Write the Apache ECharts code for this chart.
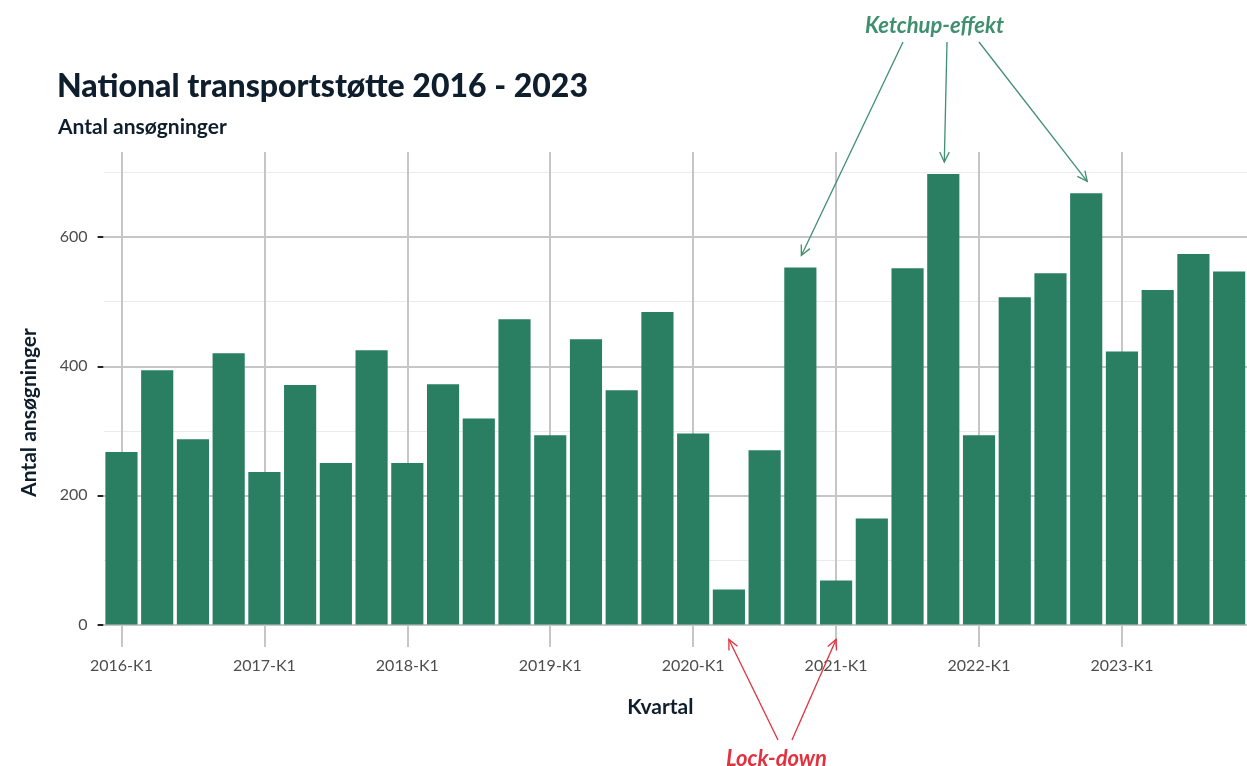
<!DOCTYPE html>
<html lang="da">
<head>
	<meta charset="UTF-8">
	<title>National transportstøtte</title>
	<style>
		html, body { margin: 0; padding: 0; background: #fff; }
		#chart { width: 1247px; height: 766px; }
	</style>
</head>
<body>
	<div id="chart"></div>
	<script src="https://cdn.jsdelivr.net/npm/echarts@6/dist/echarts.min.js"></script>
	<script>
		var categories = [
			'2016-K1','2016-K2','2016-K3','2016-K4',
			'2017-K1','2017-K2','2017-K3','2017-K4',
			'2018-K1','2018-K2','2018-K3','2018-K4',
			'2019-K1','2019-K2','2019-K3','2019-K4',
			'2020-K1','2020-K2','2020-K3','2020-K4',
			'2021-K1','2021-K2','2021-K3','2021-K4',
			'2022-K1','2022-K2','2022-K3','2022-K4',
			'2023-K1','2023-K2','2023-K3','2023-K4'
		];
		var values = [
			267, 394, 287, 420,
			236, 371, 250, 425,
			250, 372, 319, 473,
			293, 442, 363, 484,
			296, 54, 270, 553,
			68, 164, 552, 698,
			293, 507, 544, 668,
			423, 518, 574, 547
		];
		var majorTicks = [0, 200, 400, 600];
		var minorTicks = [100, 300, 500, 700];
		var ketchupBars = ['2020-K4', '2021-K4', '2022-K4'];
		var lockdownBars = ['2020-K2', '2021-K1'];

		var FONT = 'Lato';
		var INK = '#0f1e2c';
		var GREEN = '#2a7f62';
		var NOTE_GREEN = '#3f8f70';
		var NOTE_RED = '#e0323f';

		var yearStarts = categories.filter(function (c) { return /K1$/.test(c); });

		var gridLines = [];
		majorTicks.forEach(function (v) {
			gridLines.push({ yAxis: v, lineStyle: { color: '#c6c6c6', width: 2, type: 'solid' } });
		});
		minorTicks.forEach(function (v) {
			gridLines.push({ yAxis: v, lineStyle: { color: '#ebebeb', width: 1, type: 'solid' } });
		});
		yearStarts.forEach(function (c) {
			gridLines.push({ xAxis: c, lineStyle: { color: '#c6c6c6', width: 2, type: 'solid' } });
		});

		var isYearStart = function (idx) { return idx % 4 === 0; };

		var chart = echarts.init(document.getElementById('chart'));

		var option = {
			backgroundColor: '#ffffff',
			animation: false,
			title: [
				{
					text: 'National transportstøtte 2016 - 2023',
					left: 52, top: 66,
					textStyle: { fontFamily: FONT, fontSize: 32, fontWeight: 900, color: INK }
				},
				{
					text: 'Antal ansøgninger',
					left: 53, top: 112,
					textStyle: { fontFamily: FONT, fontSize: 21, fontWeight: 'bold', color: INK }
				}
			],
			grid: { left: 103.6, top: 152, width: 1146, height: 495 },
			xAxis: {
				type: 'category',
				data: categories,
				name: 'Kvartal',
				nameLocation: 'middle',
				nameGap: 50,
				nameTextStyle: { fontFamily: FONT, fontSize: 21, fontWeight: 'bold', color: INK, padding: [0, 30, 0, 0] },
				axisLine: { show: false },
				axisTick: { show: true, alignWithLabel: true, interval: function (i) { return isYearStart(i); }, length: 6, lineStyle: { color: '#222', width: 2 } },
				axisLabel: { interval: function (i) { return isYearStart(i); }, margin: 11, fontFamily: FONT, fontSize: 16, color: '#4d4d4d' },
				splitLine: { show: false }
			},
			yAxis: {
				type: 'value',
				min: -35,
				max: 732,
				name: 'Antal ansøgninger',
				nameLocation: 'middle',
				nameGap: 64,
				nameRotate: 90,
				nameTextStyle: { fontFamily: FONT, fontSize: 21, fontWeight: 'bold', color: INK, padding: [0, 26, 0, 0] },
				axisLine: { show: false },
				axisTick: { show: true, customValues: majorTicks, length: 6, lineStyle: { color: '#222', width: 2 } },
				axisLabel: { customValues: majorTicks, margin: 16, fontFamily: FONT, fontSize: 16, color: '#4d4d4d' },
				splitLine: { show: false }
			},
			series: [
				{
					type: 'bar',
					data: values,
					barCategoryGap: '10%',
					itemStyle: { color: GREEN },
					z: 2,
					markLine: {
						silent: true,
						z: 1,
						symbol: 'none',
						label: { show: false },
						emphasis: { disabled: true },
						data: gridLines
					}
				}
			]
		};

		chart.setOption(option);

		function arrow(x1, y1, x2, y2, color) {
			var ang = Math.atan2(y2 - y1, x2 - x1);
			var len = 11, spread = Math.PI / 7;
			var a1 = ang + Math.PI - spread, a2 = ang + Math.PI + spread;
			var style = { stroke: color, lineWidth: 1.3, fill: null };
			return [
				{ type: 'line', shape: { x1: x1, y1: y1, x2: x2, y2: y2 }, style: style, silent: true, z: 100 },
				{ type: 'polyline', shape: { points: [
					[x2 + len * Math.cos(a1), y2 + len * Math.sin(a1)],
					[x2, y2],
					[x2 + len * Math.cos(a2), y2 + len * Math.sin(a2)]
				] }, style: style, silent: true, z: 100 }
			];
		}

		var elems = [];
		var ketchupStarts = [[903, 42], [947, 42], [979, 42]];
		ketchupBars.forEach(function (c, i) {
			var p = chart.convertToPixel({ gridIndex: 0 }, [c, values[categories.indexOf(c)]]);
			elems = elems.concat(arrow(ketchupStarts[i][0], ketchupStarts[i][1], p[0] + 1, p[1] - 12, NOTE_GREEN));
		});
		var lockStarts = [[778, 740], [792, 740]];
		lockdownBars.forEach(function (c, i) {
			var p = chart.convertToPixel({ gridIndex: 0 }, [c, 0]);
			elems = elems.concat(arrow(lockStarts[i][0], lockStarts[i][1], p[0], p[1] + 15, NOTE_RED));
		});
		elems.push({
			type: 'text', left: 865, top: 15, silent: true, z: 100,
			style: { text: 'Ketchup-effekt', font: 'italic bold 22px ' + FONT, fill: NOTE_GREEN }
		});
		elems.push({
			type: 'text', left: 726, top: 748, silent: true, z: 100,
			style: { text: 'Lock-down', font: 'italic bold 22px ' + FONT, fill: NOTE_RED }
		});

		chart.setOption({ graphic: elems });
	</script>
</body>
</html>
